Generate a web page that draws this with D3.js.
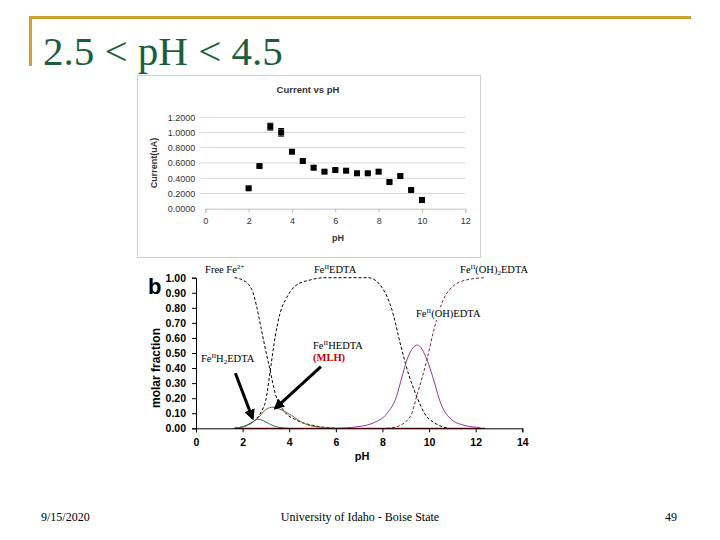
<!DOCTYPE html>
<html>
<head>
<meta charset="utf-8">
<script src="https://cdn.jsdelivr.net/npm/d3@7"></script>
<style>
  body { margin: 0; background: #fff; }
</style>
</head>
<body>
<div id="slide"></div>
<script>
// ---- top chart: current vs pH ----
const phCurrent  = [2, 2.5, 3, 3.5, 4, 4.5, 5, 5.5, 6, 6.5, 7, 7.5, 8, 8.5, 9, 9.5, 10];
const current    = [0.268, 0.56, 1.077, 1.003, 0.748, 0.626, 0.538, 0.486, 0.508, 0.499, 0.465, 0.465, 0.486, 0.35, 0.429, 0.245, 0.114];
const currentErr = [0.015, 0.015, 0.045, 0.05, 0.02, 0.015, 0.02, 0.015, 0.015, 0.015, 0.015, 0.015, 0.02, 0.015, 0.015, 0.015, 0.015];
const currentTicks = [0, 0.2, 0.4, 0.6, 0.8, 1.0, 1.2];
const phTicksTop   = [0, 2, 4, 6, 8, 10, 12];

// ---- bottom chart: species distribution ----
const phFreeFe = [1.65, 2.0, 2.4, 2.6, 2.8, 3.0, 3.2, 3.4, 3.75, 4.3, 5.0, 6.0];
const fFreeFe  = [1.0, 0.985, 0.92, 0.81, 0.66, 0.51, 0.37, 0.23, 0.12, 0.055, 0.02, 0.0];

const phFeEDTA = [1.65, 2.0, 2.5, 2.8, 3.0, 3.2, 3.4, 3.6, 3.9, 4.3, 4.9, 5.5, 7.4, 8.0, 8.4, 8.8, 9.1, 9.5, 9.8, 10.3, 10.8];
const fFeEDTA  = [0.0, 0.01, 0.05, 0.11, 0.19, 0.4, 0.61, 0.76, 0.87, 0.95, 0.985, 1.0, 1.0, 0.93, 0.79, 0.54, 0.37, 0.2, 0.1, 0.03, 0.0];

const phFeOHEDTA = [6.0, 6.9, 7.6, 8.2, 8.6, 8.8, 9.1, 9.5, 9.9, 10.2, 10.5, 10.9, 11.5, 12.2];
const fFeOHEDTA  = [0.0, 0.01, 0.035, 0.1, 0.21, 0.32, 0.475, 0.553, 0.46, 0.32, 0.166, 0.066, 0.02, 0.005];

const phFeOH2EDTA = [8.2, 8.6, 9.2, 9.5, 9.9, 10.2, 10.6, 11.0, 11.6, 12.35];
const fFeOH2EDTA  = [0.0, 0.01, 0.08, 0.23, 0.45, 0.65, 0.85, 0.94, 0.985, 1.0];

const phFeHEDTA = [1.65, 2.2, 2.7, 3.0, 3.3, 3.7, 4.1, 4.6, 5.4, 6.0];
const fFeHEDTA  = [0.0, 0.02, 0.075, 0.125, 0.14, 0.12, 0.085, 0.035, 0.005, 0.0];

const phFeH2EDTA = [1.65, 2.1, 2.4, 2.65, 2.9, 3.1, 3.5, 4.0];
const fFeH2EDTA  = [0.0, 0.015, 0.04, 0.06, 0.05, 0.033, 0.008, 0.0];

const phBaseline = [1.65, 12.4];
const fBaseline  = [0, 0];

const fractionTicks = [0, 0.1, 0.2, 0.3, 0.4, 0.5, 0.6, 0.7, 0.8, 0.9, 1.0];
const phTicksBottom = [0, 2, 4, 6, 8, 10, 12, 14];

const serif = "'Liberation Serif', 'Times New Roman', serif";
const sans  = "'Liberation Sans', Arial, sans-serif";

const svg = d3.select("#slide").append("svg")
    .attr("width", 720)
    .attr("height", 540);

// slide frame + title
const gold = "#c9a22f";
svg.append("line").attr("x1", 29).attr("x2", 691).attr("y1", 17.5).attr("y2", 17.5)
  .attr("stroke", gold).attr("stroke-width", 3);
svg.append("line").attr("x1", 30.5).attr("x2", 30.5).attr("y1", 16).attr("y2", 66)
  .attr("stroke", gold).attr("stroke-width", 3);
svg.append("text").attr("x", 43).attr("y", 65)
  .style("font-family", serif).style("font-size", "41px").attr("fill", "#1b5e3b")
  .text("2.5 < pH < 4.5");

// footer
const foot = svg.append("g").style("font-family", serif).style("font-size", "12px").attr("fill", "#000");
foot.append("text").attr("x", 41).attr("y", 521).text("9/15/2020");
foot.append("text").attr("x", 360).attr("y", 521).attr("text-anchor", "middle").text("University of Idaho - Boise State");
foot.append("text").attr("x", 677).attr("y", 521).attr("text-anchor", "end").text("49");

// ================= top chart =================
svg.append("rect").attr("x", 137.5).attr("y", 75.5).attr("width", 343).attr("height", 182)
  .attr("fill", "#fff").attr("stroke", "#cfcfcf");

const xTop = d3.scaleLinear().domain([0, 12]).range([205.3, 465.3]);
const yTop = d3.scaleLinear().domain([0, 1.2]).range([208.7, 117.3]);

const topG = svg.append("g").style("font-family", sans);

topG.append("text").attr("x", 308).attr("y", 93).attr("text-anchor", "middle")
  .style("font-size", "9.5px").style("font-weight", "bold").attr("fill", "#333")
  .text("Current vs pH");

// grid lines
topG.selectAll(".grid").data(currentTicks.slice(1)).join("line")
  .attr("x1", xTop(0) - 6).attr("x2", xTop(12))
  .attr("y1", d => yTop(d)).attr("y2", d => yTop(d))
  .attr("stroke", "#d9d9d9").attr("stroke-width", 1);

// y axis (labels only, Excel style)
const yAxisTop = topG.append("g").attr("transform", `translate(${xTop(0) - 6},0)`)
  .call(d3.axisLeft(yTop).tickValues(currentTicks).tickFormat(d3.format(".4f")).tickSize(0).tickPadding(4));
yAxisTop.select(".domain").remove();
yAxisTop.selectAll("text").style("font-family", sans).style("font-size", "9px").attr("fill", "#333");

// x axis
const xAxisTop = topG.append("g").attr("transform", `translate(0,${yTop(0)})`)
  .call(d3.axisBottom(xTop).tickValues(phTicksTop).tickSize(4).tickPadding(5));
xAxisTop.select(".domain").attr("stroke", "#bfbfbf");
xAxisTop.selectAll("line").attr("stroke", "#bfbfbf");
xAxisTop.selectAll("text").style("font-family", sans).style("font-size", "9px").attr("fill", "#333");

topG.append("text")
  .attr("transform", `translate(157,${(yTop(0) + yTop(1.2)) / 2}) rotate(-90)`)
  .attr("text-anchor", "middle").style("font-size", "9px").style("font-weight", "bold").attr("fill", "#333")
  .text("Current(uA)");
topG.append("text").attr("x", 338).attr("y", 241).attr("text-anchor", "middle")
  .style("font-size", "9px").style("font-weight", "bold").attr("fill", "#333").text("pH");

// error bars + markers
const pts = phCurrent.map((p, i) => ({ p: p, v: current[i], e: currentErr[i] }));
topG.selectAll(".err").data(pts).join("path")
  .attr("d", d => {
    const x = xTop(d.p), y0 = yTop(d.v - d.e), y1 = yTop(d.v + d.e);
    return `M${x},${y0}V${y1}M${x - 3},${y1}H${x + 3}M${x - 3},${y0}H${x + 3}`;
  })
  .attr("stroke", "#000").attr("stroke-width", 1).attr("fill", "none");
topG.selectAll(".pt").data(pts).join("rect")
  .attr("x", d => xTop(d.p) - 3).attr("y", d => yTop(d.v) - 3)
  .attr("width", 6).attr("height", 6).attr("fill", "#000");

// ================= bottom chart =================
const xB = d3.scaleLinear().domain([0, 14]).range([196, 522.3]);
const yB = d3.scaleLinear().domain([0, 1]).range([428.3, 277.7]);

const bot = svg.append("g");

const line = d3.line()
  .x(d => xB(d[0])).y(d => yB(d[1]))
  .curve(d3.curveMonotoneX);

const species = [
  { ph: phBaseline,  f: fBaseline,  color: "#c00000", dash: null, w: 1.2 },
  { ph: phFreeFe,    f: fFreeFe,    color: "#000",    dash: "3,2", w: 1 },
  { ph: phFeEDTA,    f: fFeEDTA,    color: "#000",    dash: "3,2", w: 1 },
  { ph: phFeOHEDTA,  f: fFeOHEDTA,  color: "#993399", dash: null, w: 1 },
  { ph: phFeOH2EDTA, f: fFeOH2EDTA, color: "#7a1f3d", dash: "3,2", w: 1 },
  { ph: phFeHEDTA,   f: fFeHEDTA,   color: "#8b5a2b", dash: null, w: 1 },
  { ph: phFeH2EDTA,  f: fFeH2EDTA,  color: "#1f6f6a", dash: null, w: 1 }
];

bot.selectAll(".species").data(species).join("path")
  .attr("d", s => line(s.ph.map((p, i) => [p, s.f[i]])))
  .attr("fill", "none")
  .attr("stroke", s => s.color)
  .attr("stroke-width", s => s.w)
  .attr("stroke-dasharray", s => s.dash);

// axes
const yAxisB = bot.append("g").attr("transform", `translate(${xB(0)},0)`)
  .call(d3.axisLeft(yB).tickValues(fractionTicks).tickFormat(d3.format(".2f")).tickSize(4).tickPadding(6));
yAxisB.selectAll("text").style("font-family", sans).style("font-size", "10.5px").style("font-weight", "bold").attr("fill", "#000");

const xAxisB = bot.append("g").attr("transform", `translate(0,${yB(0)})`)
  .call(d3.axisBottom(xB).tickValues(phTicksBottom).tickFormat(d3.format("d")).tickSize(4).tickPadding(6));
xAxisB.selectAll("text").style("font-family", sans).style("font-size", "10.5px").style("font-weight", "bold").attr("fill", "#000");

bot.append("text").attr("x", 148).attr("y", 294)
  .style("font-family", sans).style("font-size", "22px").style("font-weight", "bold").text("b");
bot.append("text")
  .attr("transform", `translate(160,368) rotate(-90)`)
  .attr("text-anchor", "middle")
  .style("font-family", sans).style("font-size", "12px").style("font-weight", "bold").text("molar fraction");
bot.append("text").attr("x", 362).attr("y", 460).attr("text-anchor", "middle")
  .style("font-family", sans).style("font-size", "11px").style("font-weight", "bold").text("pH");

// species labels: [text, sup/sub flag] pieces
const labels = [
  { p: 0.39, v: 1.031, parts: [["Free Fe", 0], ["2+", 1]] },
  { p: 5.06, v: 1.031, parts: [["Fe", 0], ["II", 1], ["EDTA", 0]] },
  { p: 11.33, v: 1.031, parts: [["Fe", 0], ["II", 1], ["(OH)", 0], ["2", -1], ["EDTA", 0]] },
  { p: 9.44, v: 0.739, parts: [["Fe", 0], ["II", 1], ["(OH)EDTA", 0]] },
  { p: 5.02, v: 0.527, parts: [["Fe", 0], ["II", 1], ["HEDTA", 0]] },
  { p: 0.21, v: 0.44, parts: [["Fe", 0], ["II", 1], ["H", 0], ["2", -1], ["EDTA", 0]] }
];

const labelG = svg.append("g");
labels.forEach(l => {
  const t = labelG.append("text")
    .attr("x", xB(l.p)).attr("y", yB(l.v))
    .style("font-family", serif).style("font-size", "10.5px").attr("fill", "#000");
  let shift = 0;
  l.parts.forEach(([s, k]) => {
    const target = k === 1 ? -4 : k === -1 ? 2 : 0;
    t.append("tspan").attr("dy", target - shift)
      .style("font-size", k === 0 ? "10.5px" : "7px").text(s);
    shift = target;
  });
  const bb = t.node().getBBox();
  labelG.insert("rect", () => t.node())
    .attr("x", bb.x - 1).attr("y", bb.y).attr("width", bb.width + 2).attr("height", bb.height)
    .attr("fill", "#fff");
});

labelG.append("text").attr("x", xB(5.02)).attr("y", yB(0.447))
  .style("font-family", serif).style("font-size", "10.5px").style("font-weight", "bold")
  .attr("fill", "#c00000").text("(MLH)");

// arrows
svg.append("defs").append("marker")
  .attr("id", "head").attr("viewBox", "0 0 10 10")
  .attr("refX", 8).attr("refY", 5)
  .attr("markerWidth", 3.6).attr("markerHeight", 3.6)
  .attr("orient", "auto")
  .append("path").attr("d", "M0,0L10,5L0,10Z").attr("fill", "#000");

const arrows = [
  [[1.69, 0.365], [2.43, 0.066]],
  [[5.36, 0.409], [3.40, 0.133]]
];
svg.append("g").selectAll("line").data(arrows).join("line")
  .attr("x1", d => xB(d[0][0])).attr("y1", d => yB(d[0][1]))
  .attr("x2", d => xB(d[1][0])).attr("y2", d => yB(d[1][1]))
  .attr("stroke", "#000").attr("stroke-width", 3)
  .attr("marker-end", "url(#head)");
</script>
</body>
</html>
